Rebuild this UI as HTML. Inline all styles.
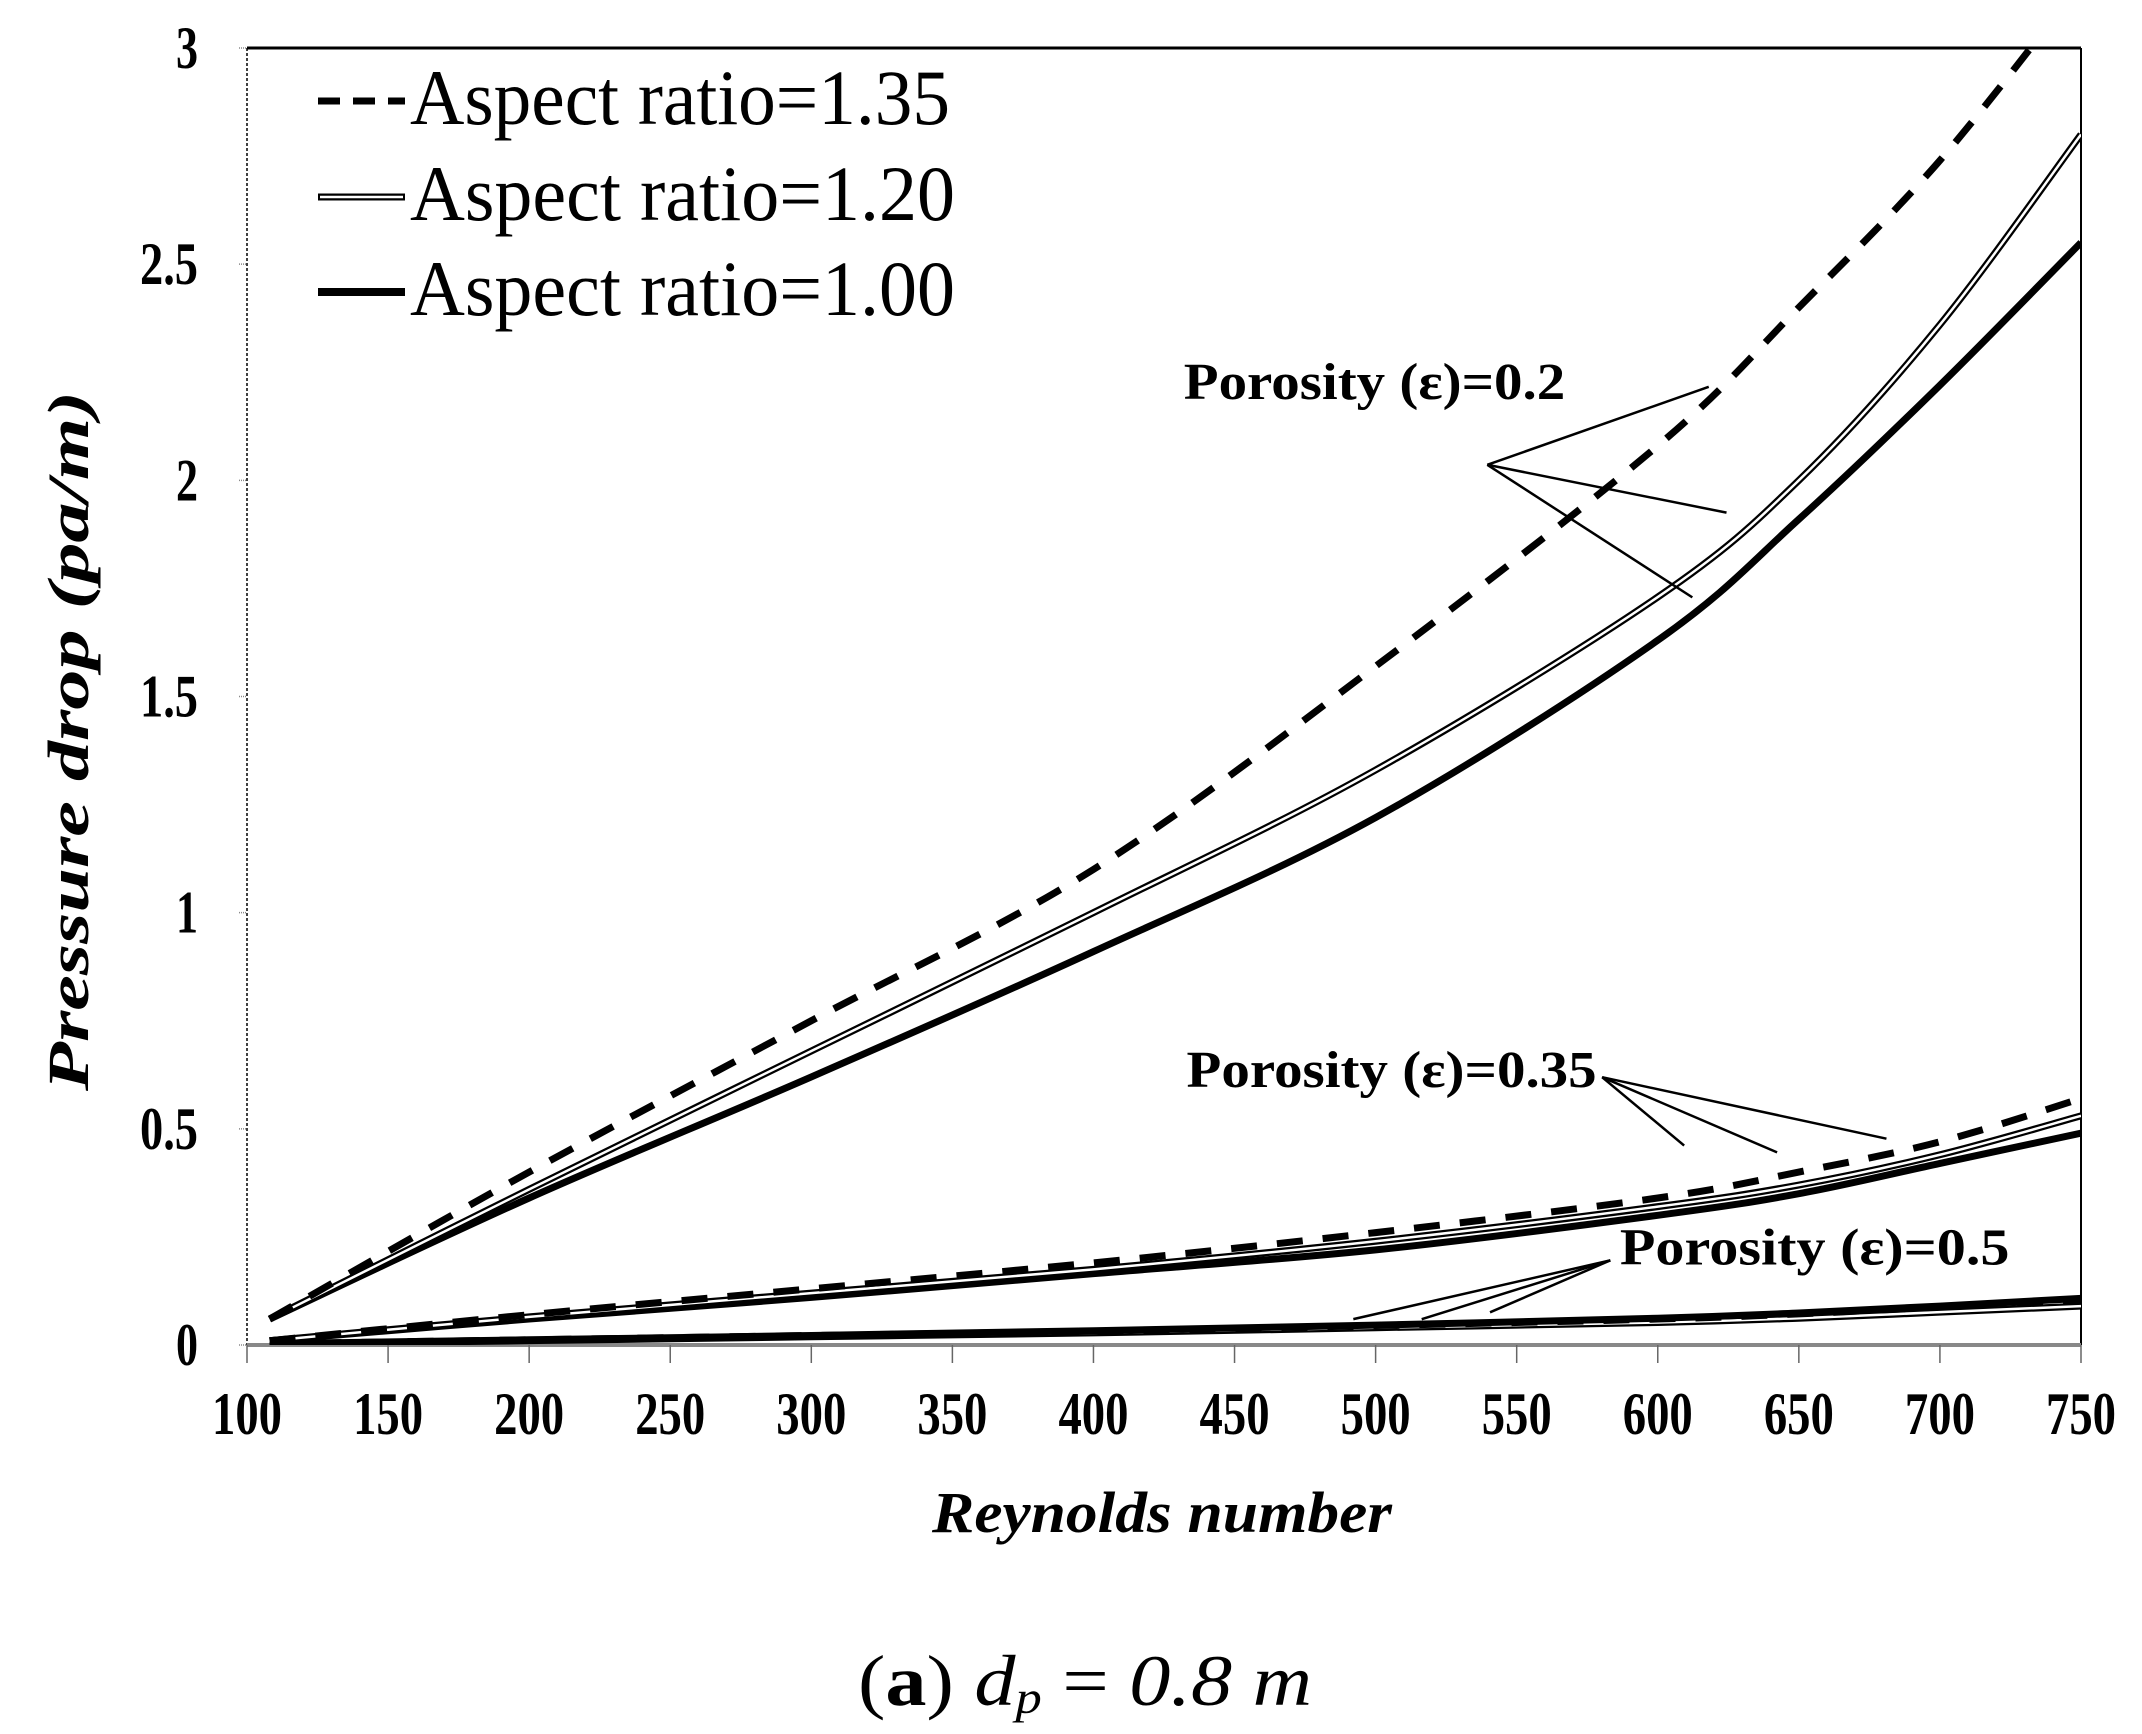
<!DOCTYPE html>
<html><head><meta charset="utf-8"><style>
html,body{margin:0;padding:0;background:#fff}
svg{display:block}
text{font-family:"Liberation Serif",serif;fill:#000}
</style></head><body>
<svg id="chart" width="2142" height="1734" viewBox="0 0 2142 1734" xmlns="http://www.w3.org/2000/svg">
<g id="axes"></g>
<g id="series"></g>
<g id="annot"></g>
<g>
  <line x1="318" y1="101" x2="405" y2="101" stroke="#000" stroke-width="7" stroke-dasharray="22,13"/>
  <text x="410" y="124" font-size="78" textLength="540" lengthAdjust="spacingAndGlyphs">Aspect ratio=1.35</text>
  <line x1="318" y1="197" x2="405" y2="197" stroke="#000" stroke-width="7"/>
  <line x1="320" y1="197" x2="403" y2="197" stroke="#fff" stroke-width="2.5"/>
  <text x="410" y="220" font-size="78" textLength="545" lengthAdjust="spacingAndGlyphs">Aspect ratio=1.20</text>
  <line x1="318" y1="292" x2="405" y2="292" stroke="#000" stroke-width="8"/>
  <text x="410" y="315" font-size="78" textLength="545" lengthAdjust="spacingAndGlyphs">Aspect ratio=1.00</text>
</g>
<text x="1162" y="1532" font-size="58" font-weight="bold" font-style="italic" text-anchor="middle" textLength="460" lengthAdjust="spacingAndGlyphs">Reynolds number</text>
<text transform="translate(88,741) rotate(-90)" font-size="58" font-weight="bold" font-style="italic" text-anchor="middle" textLength="700" lengthAdjust="spacingAndGlyphs">Pressure drop (pa/m)</text>
<text x="858" y="1705" font-size="72" textLength="454" lengthAdjust="spacingAndGlyphs"><tspan>(</tspan><tspan font-weight="bold">a</tspan><tspan>)</tspan><tspan font-style="italic"> d</tspan><tspan font-style="italic" font-size="46" dy="8">p</tspan><tspan dy="-8"> = </tspan><tspan font-style="italic">0.8 m</tspan></text>
</svg>
<script>
const xTicks = [100,150,200,250,300,350,400,450,500,550,600,650,700,750];
const yTicks = [0,0.5,1,1.5,2,2.5,3];
const yTickLabels = ["0","0.5","1","1.5","2","2.5","3"];
const reA = [108,200,300,400,500,600,650,700,750];
const e02_ar135 = [0.06,0.40,0.75,1.10,1.57,2.08,2.40,2.74,3.15];
const e02_ar120 = [0.06,0.36,0.68,1.00,1.33,1.73,2.00,2.36,2.80];
const e02_ar100 = [0.06,0.34,0.62,0.91,1.22,1.63,1.91,2.22,2.55];
const e035_ar135 = [0.01,0.07,0.13,0.19,0.26,0.34,0.40,0.47,0.57];
const e035_ar120 = [0.01,0.065,0.12,0.175,0.24,0.32,0.37,0.44,0.53];
const e035_ar100 = [0.01,0.06,0.11,0.165,0.22,0.30,0.35,0.42,0.49];
const e05_ar135 = [0.003,0.012,0.022,0.032,0.045,0.06,0.072,0.088,0.105];
const e05_ar120 = [0.002,0.010,0.019,0.028,0.040,0.052,0.062,0.076,0.090];
const e05_ar100 = [0.003,0.012,0.022,0.033,0.046,0.062,0.074,0.090,0.108];

const L=247,R=2081,T=48,B=1345;
const X=v=>L+(v-100)/650*(R-L);
const Y=v=>B-v/3*(B-T);
const NS="http://www.w3.org/2000/svg";
function mk(tag,attrs,parent){const e=document.createElementNS(NS,tag);for(const k in attrs)e.setAttribute(k,attrs[k]);parent.appendChild(e);return e;}
const ax=document.getElementById('axes');
let e;
e=mk('line',{x1:L,y1:T,x2:L,y2:B,stroke:'#000','stroke-width':1.5,'stroke-dasharray':'3,2'},ax);


e=mk('line',{x1:L,y1:T,x2:R,y2:T,stroke:'#000','stroke-width':3},ax);


e=mk('line',{x1:R,y1:T,x2:R,y2:B,stroke:'#000','stroke-width':2},ax);


e=mk('line',{x1:L,y1:B,x2:R,y2:B,stroke:'#888','stroke-width':4},ax);


xTicks.forEach(t=>{
  const tk=mk('line',{x1:X(t),y1:B,x2:X(t),y2:B+18,stroke:'#666','stroke-width':1.5},ax);
  
  
  const lb=mk('text',{x:X(t),y:1434,'font-size':60,'font-weight':'bold','text-anchor':'middle',textLength:70,lengthAdjust:'spacingAndGlyphs'},ax);
  lb.textContent=String(t);
  
  
});
yTicks.forEach((t,i)=>{
  const tk=mk('line',{x1:L-8,y1:Y(t),x2:L,y2:Y(t),stroke:'#888','stroke-width':1.5,'stroke-dasharray':'1,1'},ax);
  
  
  const s=yTickLabels[i];
  const lb=mk('text',{x:198,y:Y(t)+20,'font-size':60,'font-weight':'bold','text-anchor':'end',textLength:s.length>1?58:22,lengthAdjust:'spacingAndGlyphs'},ax);
  lb.textContent=s;
  
  
});
const sg=document.getElementById('series');
const clip=mk('clipPath',{id:'pc'},sg);
mk('rect',{x:L,y:T,width:R-L,height:B-T},clip);
function path(vals){
  const p=reA.map((r,i)=>[X(r),Y(vals[i])]);
  let d='M'+p[0][0]+','+p[0][1];
  for(let i=0;i<p.length-1;i++){
    const p0=p[Math.max(0,i-1)],p1=p[i],p2=p[i+1],p3=p[Math.min(p.length-1,i+2)];
    const c1=[p1[0]+(p2[0]-p0[0])/6,p1[1]+(p2[1]-p0[1])/6];
    const c2=[p2[0]-(p3[0]-p1[0])/6,p2[1]-(p3[1]-p1[1])/6];
    d+=` C${c1[0]},${c1[1]} ${c2[0]},${c2[1]} ${p2[0]},${p2[1]}`;
  }
  return d;
}
function series(vals,type,name){
  if(type==='dash'){
    const s=mk('path',{d:path(vals),fill:'none',stroke:'#000','stroke-width':7,'stroke-dasharray':'26,20','clip-path':'url(#pc)'},sg);
    
    
  }else if(type==='double'){
    const s=mk('path',{d:path(vals),fill:'none',stroke:'#000','stroke-width':7,'clip-path':'url(#pc)'},sg);
    
    
    const s2=mk('path',{d:path(vals),fill:'none',stroke:'#fff','stroke-width':2.5,'clip-path':'url(#pc)'},sg);
    
    
  }else{
    const s=mk('path',{d:path(vals),fill:'none',stroke:'#000','stroke-width':7,'clip-path':'url(#pc)'},sg);
    
    
  }
}
series(e05_ar120,'double','line-e05-ar120');
series(e05_ar100,'solid','line-e05-ar100');
series(e05_ar135,'dash','line-e05-ar135');
series(e035_ar100,'solid','line-e035-ar100');
series(e035_ar120,'double','line-e035-ar120');
series(e035_ar135,'dash','line-e035-ar135');
series(e02_ar100,'solid','line-e02-ar100');
series(e02_ar120,'double','line-e02-ar120');
series(e02_ar135,'dash','line-e02-ar135');

const an=document.getElementById('annot');
const k=1.367;
const groups=[
 {label:'Porosity (ε)=0.2',tx:866,ty:292,tw:279,src:[1088,340],dst:[[1250,283],[1263,375],[1238,437]],name:'label-porosity-0-2'},
 {label:'Porosity (ε)=0.35',tx:868,ty:795,tw:300,src:[1172,788],dst:[[1232,838],[1300,843],[1380,833]],name:'label-porosity-0-35'},
 {label:'Porosity (ε)=0.5',tx:1185,ty:925,tw:285,src:[1178,922],dst:[[990,965],[1040,965],[1090,960]],name:'label-porosity-0-5'}
];
groups.forEach(g=>{
  const t=mk('text',{x:g.tx*k,y:g.ty*k,'font-size':52,'font-weight':'bold',textLength:g.tw*k,lengthAdjust:'spacingAndGlyphs'},an);
  t.textContent=g.label;
  
  
  g.dst.forEach(d=>{
    const l=mk('line',{x1:g.src[0]*k,y1:g.src[1]*k,x2:d[0]*k,y2:d[1]*k,stroke:'#000','stroke-width':2.5},an);
    
    
  });
});
</script>
</body></html>
